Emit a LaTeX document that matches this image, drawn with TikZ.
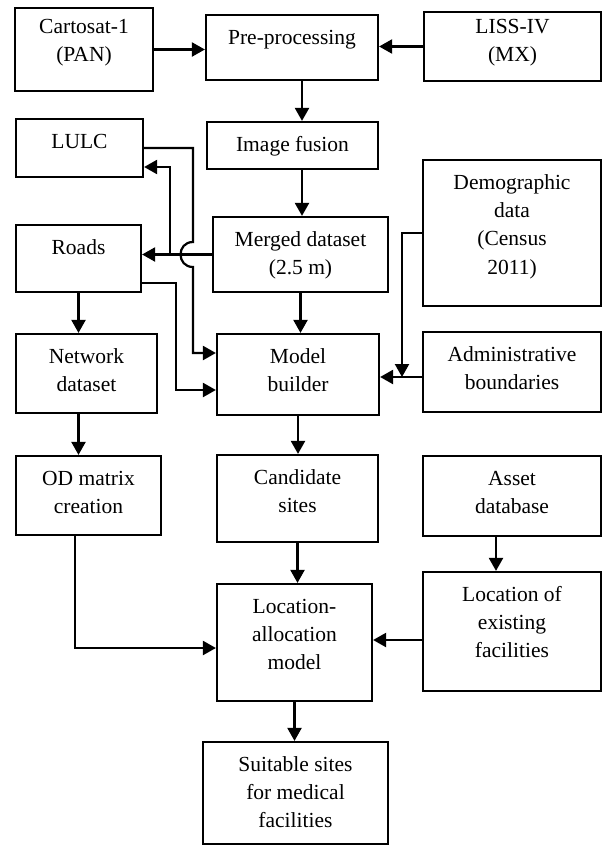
\documentclass[tikz,border=0pt]{standalone}
\usepackage{fontspec}
\setmainfont{Liberation Serif}
\usetikzlibrary{arrows.meta}
\newcommand{\boxtext}[4][14.5pt]{\parbox[c][#3][t]{#2}{\centering\rule{0pt}{#1}#4}}

\begin{document}
\begin{tikzpicture}[x=0.5pt, y=-0.5pt, font=\fontsize{10.75}{14.2}\selectfont,
    blk/.style={draw, line width=1.1pt, inner sep=0pt},
    arr/.style={-{Triangle[length=6.5pt,width=7pt]}, line width=1.1pt}]
    \useasboundingbox (0,0) rectangle (606,846);

    % Input images
    \node[blk] (cart) at (84,49.5) {\boxtext[12.5pt]{69pt}{41.5pt}{Cartosat-1\\(PAN)}};
    \node[blk] (pre) at (292,47.5) {\boxtext{86pt}{32.5pt}{Pre-processing}};
    \node[blk] (liss) at (512.5,46.5) {\boxtext[10.5pt]{88.5pt}{34.5pt}{LISS-IV\\(MX)}};

    % Middle column
    \node[blk] (fusion) at (292.5,145.5) {\boxtext{85.5pt}{23.5pt}{Image fusion}};
    \node[blk] (merged) at (300.5,254.5) {\boxtext{87.5pt}{37.5pt}{Merged dataset\\(2.5 m)}};
    \node[blk] (model) at (298,374.5) {\boxtext{81pt}{40.5pt}{Model\\builder}};
    \node[blk] (cand) at (297.5,498.5) {\boxtext{80.5pt}{43.5pt}{Candidate\\sites}};
    \node[blk] (locall) at (294.5,642.5) {\boxtext{77.5pt}{58.5pt}{Location-\\allocation\\model}};
    \node[blk] (suit) at (295.5,793) {\boxtext{92.5pt}{51pt}{Suitable sites\\for medical\\facilities}};

    % Left column
    \node[blk] (lulc) at (79.5,148) {\boxtext{63.5pt}{29pt}{LULC}};
    \node[blk] (roads) at (78.5,258.5) {\boxtext{62.5pt}{33.5pt}{Roads}};
    \node[blk] (net) at (86.5,373.5) {\boxtext{70.5pt}{39.5pt}{Network\\dataset}};
    \node[blk] (od) at (88.5,495.5) {\boxtext{72.5pt}{39.5pt}{OD matrix\\creation}};

    % Right column
    \node[blk] (demo) at (512,233) {\boxtext{89pt}{73pt}{Demographic\\data\\(Census\\2011)}};
    \node[blk] (admin) at (512,372) {\boxtext{89pt}{40pt}{Administrative\\boundaries}};
    \node[blk] (asset) at (512,496) {\boxtext{89pt}{40pt}{Asset\\database}};
    \node[blk] (locx) at (512,631.5) {\boxtext{89pt}{59.5pt}{Location of\\existing\\facilities}};

    % Helper points
    \coordinate (ccol) at ([xshift=5pt]pre.south);
    \coordinate (hop) at (193,254.5);
    \coordinate (split) at (170,254.5);
    \coordinate (admjn) at (402,377);
    \coordinate (lxjn) at (0,640);
    \coordinate (acol) at ([xshift=-8pt]asset.south);

    % Top row
    \draw[arr] (cart.east) -- (pre.west |- cart.east);
    \draw[arr] (liss.west) -- (pre.east |- liss.west);

    % Middle column
    \draw[arr] (ccol) -- (ccol |- fusion.north);
    \draw[arr] (fusion.south -| ccol) -- (merged.north -| ccol);
    \draw[arr] (merged.south) -- (merged.south |- model.north);
    \draw[arr] (model.south) -- (model.south |- cand.north);
    \draw[arr] (cand.south) -- (cand.south |- locall.north);
    \draw[arr] (locall.south) -- (locall.south |- suit.north);

    % Merged dataset to LULC and Roads
    \draw[arr] (merged.west) -- (roads.east |- merged.west);
    \draw[arr] (split) |- ([yshift=-9.5pt]lulc.east);

    % LULC and Roads to Model builder
    \draw[arr] (lulc.east) -| ([yshift=6.25pt]hop)
        .. controls +(-8.3pt,0) and +(-8.3pt,0) .. ([yshift=-6.25pt]hop)
        |- ([yshift=10.75pt]model.west);
    \draw[arr] ([yshift=-12.25pt]roads.east) -- ++(34,0) |- ([yshift=-7.75pt]model.west);

    % Census and boundaries
    \draw[arr] (admin.west |- admjn) -- (model.east |- admjn);
    \draw[arr] (demo.west) -| (admjn);

    % Network side
    \draw[arr] (roads.south) -- (roads.south |- net.north);
    \draw[arr] (roads.south |- net.south) -- (roads.south |- od.north);
    \draw[arr] ([xshift=-6.75pt]od.south) |- ([yshift=-2.75pt]locall.west);

    % Existing facilities
    \draw[arr] (acol) -- (acol |- locx.north);
    \draw[arr] (locx.west |- lxjn) -- (locall.east |- lxjn);
\end{tikzpicture}
\end{document}
